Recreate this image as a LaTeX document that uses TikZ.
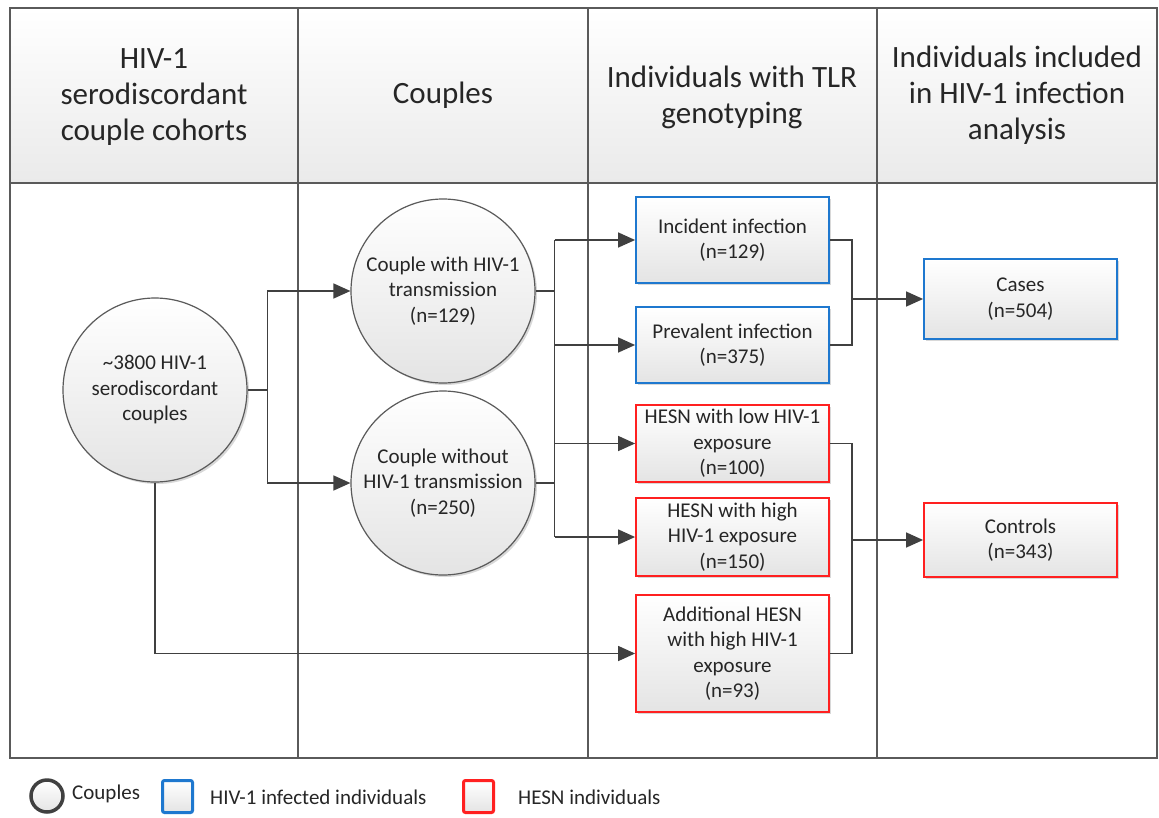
\documentclass[tikz,border=0pt]{standalone}
\usepackage{fontspec}
\setmainfont{Carlito}
\usetikzlibrary{arrows.meta,shadows,calc}
\definecolor{ln}{HTML}{404040}
\definecolor{tbl}{HTML}{5A5A5A}
\definecolor{bblue}{HTML}{1E78CF}
\definecolor{bred}{HTML}{FF2020}
\definecolor{gbot}{HTML}{E4E4E4}
\definecolor{hbot}{HTML}{EAEAEA}
\definecolor{txt}{HTML}{262626}
\tikzset{
  body/.style={font=\fontsize{21}{25.5}\selectfont, align=center, text=txt},
  head/.style={font=\fontsize{31}{36}\selectfont, align=center, text=txt},
  shad/.style={drop shadow={opacity=0.25, shadow xshift=2pt, shadow yshift=-2pt, fill=black!60}},
  couple/.style={circle, draw=tbl, line width=1.2pt, minimum size=184pt, inner sep=0pt,
    top color=white, bottom color=gbot, shad, body},
  boxbase/.style={rectangle, line width=1.8pt, minimum width=193pt, inner sep=0pt,
    top color=white, bottom color=gbot, shad, body},
  infbox/.style={boxbase, draw=bblue},
  hesnbox/.style={boxbase, draw=bred},
  conn/.style={draw=ln, line width=1.4pt},
  arr/.style={conn, -{Triangle[length=17pt,width=15pt]}},
  tline/.style={draw=tbl, line width=1.3pt}
}
\begin{document}
\begin{tikzpicture}[x=1pt,y=-1pt]
\useasboundingbox (0,0) rectangle (1159,817);
\fill[white] (0,0) rectangle (1159,817);
% header shading
\shade[top color=white, bottom color=hbot] (10,8) rectangle (1157,183);
% table lines
\draw[tline] (10,8) rectangle (1157,758);
\draw[tline] (10,183) -- (1157,183);
\foreach \xx in {298,588,877} \draw[tline] (\xx,8) -- (\xx,758);
% header texts
\node[head] (h1) at (154,97) {HIV-1\\serodiscordant\\couple cohorts};
\node[head] (h2) at (443,95) {Couples};
\node[head] (h3) at (732,97) {Individuals with TLR\\genotyping};
\node[head] (h4) at (1017,95) {Individuals included\\in HIV-1 infection\\analysis};
% circles
\node[couple] (c0) at (155,390) {\textasciitilde3800 HIV-1\\serodiscordant\\couples};
\node[couple] (c1) at (443,291) {Couple with HIV-1\\transmission\\(n=129)};
\node[couple] (c2) at (443,483) {Couple without\\HIV-1 transmission\\(n=250)};
% boxes
\node[infbox, minimum height=86pt] (b1) at (732.5,240) {Incident infection\\(n=129)};
\node[infbox, minimum height=76pt] (b2) at (732.5,345) {Prevalent infection\\(n=375)};
\node[hesnbox, minimum height=77pt] (b3) at (732.5,443.5) {HESN with low HIV-1\\exposure\\(n=100)};
\node[hesnbox, minimum height=78pt] (b4) at (732.5,537) {HESN with high\\HIV-1 exposure\\(n=150)};
\node[hesnbox, minimum height=117pt] (b5) at (732.5,653.5) {Additional HESN\\with high HIV-1\\exposure\\(n=93)};
\node[infbox, minimum height=80pt] (k1) at (1020.5,299) {Cases\\(n=504)};
\node[hesnbox, minimum height=74pt] (k2) at (1020.5,540) {Controls\\(n=343)};
% connectors
\coordinate (j0) at ($(c0.east)+(20,0)$);
\draw[conn] (c0.east) -- (j0);
\draw[arr] (j0) |- (c1.west);
\draw[arr] (j0) |- (c2.west);
\coordinate (j1) at ($(c1.east)+(19,0)$);
\draw[conn] (c1.east) -- (j1);
\draw[conn] (c2.east) -- (c2.east -| j1);
\draw[conn] (j1 |- b1.west) -- (j1 |- b4.west);
\draw[arr] (j1 |- b1.west) -- (b1.west);
\draw[arr] (j1 |- b2.west) -- (b2.west);
\draw[arr] (j1 |- b3.west) -- (b3.west);
\draw[arr] (j1 |- b4.west) -- (b4.west);
\draw[arr] (c0.south) |- (b5.west);
\coordinate (j2) at ($(b1.east)+(22,0)$);
\draw[conn] (b1.east) -- (j2) -- (j2 |- b2.east) -- (b2.east);
\draw[arr] (j2 |- k1.west) -- (k1.west);
\coordinate (j3) at ($(b3.east)+(22,0)$);
\draw[conn] (b3.east) -- (j3) -- (j3 |- b5.east) -- (b5.east);
\draw[arr] (j3 |- k2.west) -- (k2.west);
% legend
\node[circle, draw=ln, line width=3.5pt, minimum size=32pt, inner sep=0pt, top color=white, bottom color=gbot] (lc) at (47,796) {};
\node[body, anchor=west, inner sep=0pt] (lt1) at (72,794) {Couples};
\node[rectangle, draw=bblue, line width=3pt, rounded corners=2pt, minimum width=30pt, minimum height=32pt, inner sep=0pt, top color=white, bottom color=gbot] (lb) at (177.5,796.5) {};
\node[body, anchor=west, inner sep=0pt] (lt2) at (210,797) {HIV-1 infected individuals};
\node[rectangle, draw=bred, line width=3pt, rounded corners=2pt, minimum width=30pt, minimum height=32pt, inner sep=0pt, top color=white, bottom color=gbot] (lr) at (478.5,796.5) {};
\node[body, anchor=west, inner sep=0pt] (lt3) at (518,797) {HESN individuals};
\end{tikzpicture}
\end{document}
